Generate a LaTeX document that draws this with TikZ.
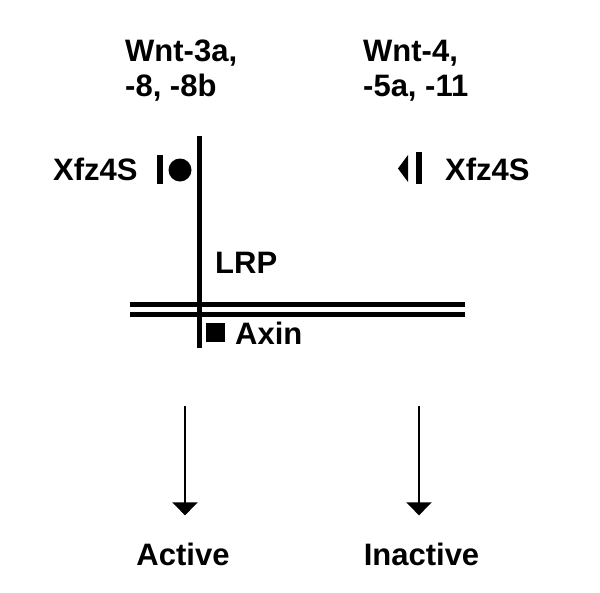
\documentclass[tikz,border=0pt]{standalone}
\usepackage{fontspec}
\setmainfont{Liberation Sans}
\usepackage{tikz}
\usetikzlibrary{arrows.meta}

\begin{document}
\begin{tikzpicture}[x=1pt,y=-1pt,
		lbl/.style={inner sep=0pt,font=\fontsize{31}{35}\selectfont\bfseries},
		arr/.style={line width=2.5pt,-{Triangle[width=25pt,length=13pt]},shorten >=27pt}]
				      \useasboundingbox (0,0) rectangle (600,592);
				      \node[lbl,anchor=north west,align=left] (wntl) at (125,40) {Wnt-3a,\\-8, -8b};
				      \node[lbl,anchor=north west,align=left] (wntr) at (363,40) {Wnt-4,\\-5a, -11};
				      \node[lbl,anchor=base west] (fzl) at (53,180) {Xfz4S};
				      \node[lbl,anchor=base west] (fzr) at (445,180) {Xfz4S};
				      \node[lbl,anchor=base west] (lrp) at (215,273) {LRP};
				      \node[lbl,anchor=base west] (axin) at (235,344) {Axin};
				      \node[lbl,anchor=base] (act) at (183,565) {Active};
				      \node[lbl,anchor=base] (inact) at (421.5,565) {Inactive};
				      \draw[line width=5pt] (199.5,136) -- (199.5,348);
				      \draw[line width=4.5pt] (130,304.5) -- (465,304.5);
				      \draw[line width=4.5pt] (130,314.5) -- (465,314.5);
				      \draw[line width=6pt] (160,155) -- (160,184);
				      \fill (180,170) circle (11.5);
				      \fill (398,168.5) -- (408,155) -- (408,182) -- cycle;
				      \draw[line width=6pt] (418.5,152) -- (418.5,184);
				      \fill (206,323) rectangle (225,342);
				      \coordinate (actin) at (185,406);
				      \coordinate (inactin) at (419,406);
				      \draw[arr] (actin) -- (actin |- act.north);
				      \draw[arr] (inactin) -- (inactin |- inact.north);
			      \end{tikzpicture}
\end{document}
